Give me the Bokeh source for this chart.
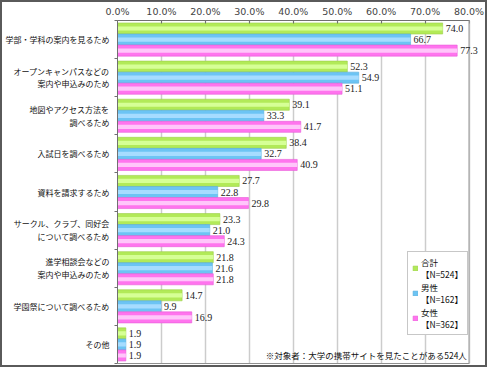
from bokeh.plotting import figure
from bokeh.models import (ColumnDataSource, FixedTicker, Range1d, Legend, LegendItem, Label,
                          LabelSet, LinearAxis, Span)
from bokeh.embed import file_html
from bokeh.resources import INLINE
import numpy as np

categories = [
    "学部・学科の案内を見るため",
    "オープンキャンパスなどの\n案内や申込みのため",
    "地図やアクセス方法を\n調べるため",
    "入試日を調べるため",
    "資料を請求するため",
    "サークル、クラブ、同好会\nについて調べるため",
    "進学相談会などの\n案内や申込みのため",
    "学園祭について調べるため",
    "その他",
]
total = [74.0, 52.3, 39.1, 38.4, 27.7, 23.3, 21.8, 14.7, 1.9]
male = [66.7, 54.9, 33.3, 32.7, 22.8, 21.0, 21.6, 9.9, 1.9]
female = [77.3, 51.1, 41.7, 40.9, 29.8, 24.3, 21.8, 16.9, 1.9]
series_names = ["合計\n【N=524】", "男性\n【N=162】", "女性\n【N=362】"]
x_ticks = [0, 10, 20, 30, 40, 50, 60, 70, 80]
x_tick_labels = ["0.0%", "10.0%", "20.0%", "30.0%", "40.0%", "50.0%", "60.0%", "70.0%", "80.0%"]
x_max = 80
note = "※対象者：大学の携帯サイトを見たことがある524人"

n = len(categories)
centers = np.arange(n) + 0.5
bar_h = 0.29

p = figure(width=487, height=367, output_backend="svg", toolbar_location=None,
           x_range=Range1d(0, 84.2), y_range=Range1d(n, 0),
           x_axis_location="above",
           min_border_left=100, min_border_right=2, min_border_bottom=6, min_border_top=4)
p.styles = {"border": "2px solid #5a5a5a", "box-sizing": "border-box"}
p.outline_line_color = None
p.background_fill_color = "white"
p.border_fill_color = "white"

# grid
p.ygrid.grid_line_color = None
p.xgrid.grid_line_color = "#cccccc"
p.xgrid.grid_line_width = 1.5
p.xaxis.ticker = FixedTicker(ticks=x_ticks)
p.xaxis.bounds = (0, x_max)
p.xaxis.major_label_overrides = {t: l for t, l in zip(x_ticks, x_tick_labels)}
p.xaxis.major_label_text_font = "DejaVu Sans"
p.xaxis.major_label_text_font_size = "9.5px"
p.xaxis.major_label_text_color = "#444444"
p.xaxis.axis_line_color = "#707070"
p.xaxis.major_tick_in = 3
p.xaxis.major_tick_out = 0
p.xaxis.major_tick_line_color = "#707070"
p.xaxis.minor_tick_line_color = None
p.xaxis.major_label_standoff = 4

bottom_axis = LinearAxis(bounds=(0, x_max), ticker=FixedTicker(ticks=[]),
                         axis_line_color="#909090", major_label_text_font_size="0px",
                         major_tick_line_color=None, minor_tick_line_color=None)
p.add_layout(bottom_axis, "below")
p.add_layout(Span(location=x_max, dimension="height", line_color="#a8a8a8", line_width=1.2))

p.yaxis.ticker = FixedTicker(ticks=list(centers), minor_ticks=list(np.arange(n + 1)))
p.yaxis.major_label_overrides = {float(c): lab for c, lab in zip(centers, categories)}
p.yaxis.major_label_text_font = "Noto Sans CJK JP"
p.yaxis.major_label_text_font_size = "8px"
p.yaxis.major_label_text_line_height = 1.15
p.yaxis.major_label_text_color = "#111111"
p.yaxis.major_tick_in = 0
p.yaxis.major_tick_out = 0
p.yaxis.minor_tick_in = 0
p.yaxis.minor_tick_out = 3
p.yaxis.minor_tick_line_color = "#707070"
p.yaxis.axis_line_color = "#707070"
p.yaxis.major_label_standoff = 5

styles = [
    ("#b2ea58", "#d6ff96", "#9ccf48", -bar_h),
    ("#6cc4f4", "#a6dcff", "#58acd8", 0.0),
    ("#ff74ee", "#ffc6fa", "#e85ad8", bar_h),
]
renderers = []
for vals, (c1, c2, lc, off) in zip([total, male, female], styles):
    src = ColumnDataSource(dict(y=centers + off, v=vals, t=[f"{v:.1f}" for v in vals]))
    r = p.hbar(y="y", right="v", left=0, height=bar_h, source=src,
               fill_color=c1, line_color=lc, line_width=0.6)
    p.hbar(y="y", right="v", left=0, height=bar_h * 0.38, source=src,
           fill_color=c2, line_color=None)
    p.add_layout(LabelSet(x="v", y="y", text="t", source=src, x_offset=3,
                          text_font="Liberation Sans", text_font_size="10px",
                          text_color="#222222", text_baseline="middle", text_align="left"))
    renderers.append(r)

legend = Legend(items=[LegendItem(label=nm, renderers=[r]) for nm, r in zip(series_names, renderers)],
                location=(290, 28))
legend.label_text_font = "Noto Sans CJK JP"
legend.label_text_font_size = "8.5px"
legend.label_text_line_height = 1.1
legend.label_text_color = "#111111"
legend.glyph_width = 6
legend.glyph_height = 6
legend.spacing = 1
legend.padding = 4
legend.margin = 0
legend.label_standoff = 3
legend.border_line_color = "#909090"
legend.background_fill_alpha = 1
p.add_layout(legend, "center")

p.add_layout(Label(x=79.5, y=n - 0.22, text=note, text_align="right", text_baseline="middle",
                   text_font="Noto Sans CJK JP", text_font_size="8.5px", text_color="#111111"))

open("out.html", "w").write(file_html(p, INLINE))
